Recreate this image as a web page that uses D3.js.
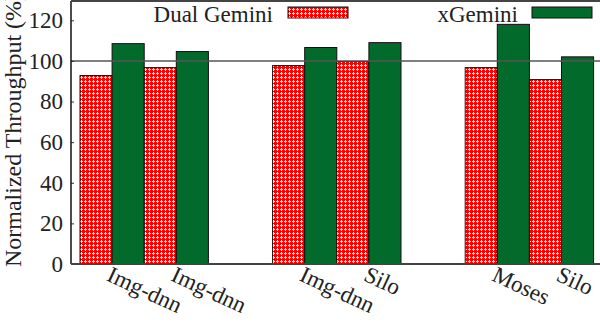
<!DOCTYPE html>
<html>
<head>
<meta charset="utf-8">
<script src="https://cdn.jsdelivr.net/npm/d3@7"></script>
<style>
  body { margin: 0; background: #fff; }
  svg { display: block; }
  text { font-family: "Liberation Serif", "DejaVu Serif", serif; fill: #222; }
</style>
</head>
<body>
<script>
'use strict';

// chart values
const categories = ["Img-dnn", "Img-dnn", "Img-dnn", "Silo", "Moses", "Silo"];
const groupOf = [0, 0, 1, 1, 2, 2];
const dualGemini = [92.8, 96.7, 97.7, 99.7, 96.7, 90.8];
const xGemini = [108.5, 104.6, 106.6, 109.0, 118.0, 102.0];
const seriesNames = ["Dual Gemini", "xGemini"];
const yTicks = [0, 20, 40, 60, 80, 100, 120];

(function () {
  const width = 600, height = 322;
  const left = 71, right = 600, top = 1, bottom = 264;

  const svg = d3.select('body')
    .append('svg')
    .attr('width', width)
    .attr('height', height);

  // red fill with small white crosses
  const defs = svg.append('defs');
  const pat = defs.append('pattern')
    .attr('id', 'checker')
    .attr('patternUnits', 'userSpaceOnUse')
    .attr('width', 4)
    .attr('height', 4);
  pat.append('rect').attr('width', 4).attr('height', 4).attr('fill', '#ff0000');
  [[1, 0], [0, 1], [1, 1], [2, 1], [1, 2]].forEach(p => {
    pat.append('rect')
      .attr('x', p[0]).attr('y', p[1])
      .attr('width', 1).attr('height', 1)
      .attr('fill', '#fff');
  });

  const fills = ['url(#checker)', '#026b2b'];

  // y scale
  const yScale = d3.scaleLinear()
    .domain([0, 129.5])
    .range([bottom, top]);

  // one slot per bar, two empty slots between groups
  const slotOf = (i, s) => groupOf[i] * 6 + (i % 2) * 2 + s;
  const xScale = d3.scaleBand()
    .domain(d3.range(16))
    .range([80, 593.6])
    .padding(0);

  // bars
  const rows = [];
  categories.forEach((c, i) => {
    rows.push({ i: i, s: 0, v: dualGemini[i] });
    rows.push({ i: i, s: 1, v: xGemini[i] });
  });

  svg.selectAll('.bar')
    .data(rows)
    .enter()
    .append('rect')
    .attr('class', 'bar')
    .attr('x', d => xScale(slotOf(d.i, d.s)))
    .attr('y', d => yScale(d.v))
    .attr('width', xScale.bandwidth())
    .attr('height', d => yScale(0) - yScale(d.v))
    .attr('fill', d => fills[d.s])
    .attr('stroke', '#111')
    .attr('stroke-width', 1);

  // reference line at 100
  svg.append('line')
    .attr('x1', left).attr('x2', right)
    .attr('y1', yScale(100)).attr('y2', yScale(100))
    .attr('stroke', '#555')
    .attr('stroke-width', 1.5);

  // y axis
  const yAxis = d3.axisLeft(yScale)
    .tickValues(yTicks)
    .tickSizeInner(-3)
    .tickSizeOuter(0)
    .tickPadding(8);
  const gy = svg.append('g')
    .attr('transform', 'translate(' + left + ',0)')
    .attr('font-family', null)
    .call(yAxis);
  gy.attr('font-family', '"Liberation Serif", serif');
  gy.select('.domain').remove();
  gy.selectAll('.tick line').attr('stroke', '#333');
  gy.selectAll('.tick text')
    .style('font-size', '23px')
    .attr('fill', '#222');

  // borders
  svg.append('line')
    .attr('x1', left).attr('x2', left).attr('y1', top).attr('y2', bottom)
    .attr('stroke', '#111').attr('stroke-width', 1.5);
  svg.append('line')
    .attr('x1', left).attr('x2', right).attr('y1', top).attr('y2', top)
    .attr('stroke', '#444').attr('stroke-width', 2);
  svg.append('line')
    .attr('x1', left).attr('x2', right).attr('y1', bottom).attr('y2', bottom)
    .attr('stroke', '#444').attr('stroke-width', 2);

  // x labels, rotated
  svg.selectAll('.xlab')
    .data(categories)
    .enter()
    .append('text')
    .attr('class', 'xlab')
    .attr('transform', (d, i) => {
      const x = xScale(slotOf(i, 1)) - 6.5;
      return 'translate(' + x + ',280)rotate(25)';
    })
    .style('font-size', '23px')
    .text(d => d);

  // y label
  svg.append('text')
    .attr('transform', 'translate(21,130)rotate(-90)')
    .attr('text-anchor', 'middle')
    .style('font-size', '24px')
    .text('Normalized Throughput (%)');

  // legend
  const legend = [
    { name: seriesNames[0], textEnd: 273, box: 288 },
    { name: seriesNames[1], textEnd: 518, box: 532 }
  ];
  legend.forEach((d, s) => {
    svg.append('text')
      .attr('x', d.textEnd)
      .attr('y', 22)
      .attr('text-anchor', 'end')
      .style('font-size', '23px')
      .text(d.name);
    svg.append('rect')
      .attr('x', d.box)
      .attr('y', 7)
      .attr('width', 60)
      .attr('height', 11)
      .attr('fill', fills[s])
      .attr('stroke', '#111')
      .attr('stroke-width', 1);
  });
})();
</script>
</body>
</html>
